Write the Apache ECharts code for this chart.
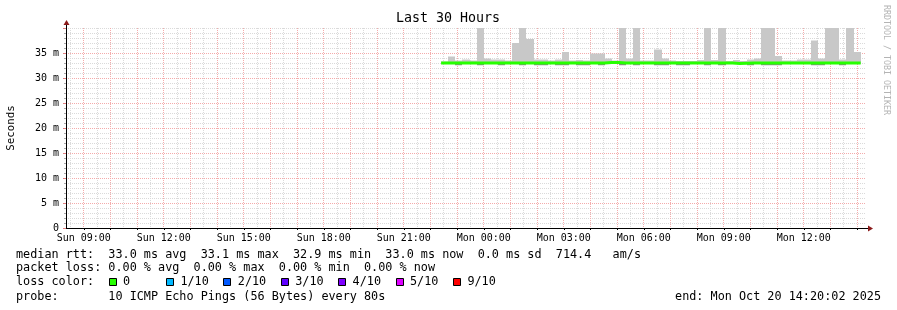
<!DOCTYPE html>
<html><head><meta charset="utf-8">
<script src="https://cdn.jsdelivr.net/npm/echarts@6/dist/echarts.min.js"></script>
<style>html,body{margin:0;padding:0;background:#fff}#c{width:897px;height:310px}</style>
</head><body><div id="c"></div>
<script>
// time in minutes since Sun 00:00
const axisStartMin = 500;   // Sun 08:20
const axisEndMin = 2300;    // Mon 14:20
const binStartMin = 1344;   // first data bin, Sun 22:24
const binMinutes = 16;

// smoke (ms) per 16-minute bin
const smokeHigh = [
  33.3, 34.3, 33.5, 33.7, 33.5, 40.0, 33.9, 33.7, 33.7, 33.5,
  37.0, 40.0, 37.8, 33.7, 33.7, 33.5, 33.7, 35.2, 33.5, 33.6,
  33.5, 34.9, 34.9, 33.9, 33.5, 40.0, 33.9, 40.0, 33.5, 33.5,
  35.7, 33.9, 33.5, 33.4, 33.4, 33.4, 33.6, 40.0, 33.6, 40.0,
  33.4, 33.6, 33.4, 33.7, 33.9, 40.0, 40.0, 34.4, 33.5, 33.5,
  33.7, 33.7, 37.5, 33.9, 40.0, 40.0, 33.7, 40.0, 35.2
];
const smokeLow = [
  32.85, 32.85, 32.5, 32.85, 32.85, 32.5, 32.85, 32.85, 32.5, 32.85,
  32.85, 32.5, 32.85, 32.5, 32.5, 32.85, 32.5, 32.5, 32.85, 32.5,
  32.5, 32.85, 32.5, 32.85, 32.85, 32.5, 32.85, 32.5, 32.85, 32.85,
  32.5, 32.5, 32.85, 32.5, 32.5, 32.85, 32.85, 32.5, 32.85, 32.5,
  32.85, 32.85, 32.85, 32.5, 32.85, 32.5, 32.5, 32.5, 32.85, 32.85,
  32.85, 32.85, 32.5, 32.5, 32.85, 32.85, 32.5, 32.85, 32.85
];
const darkLow = [
  32.95, 32.95, 32.6, 32.95, 32.95, 32.6, 32.95, 32.95, 32.6, 32.95,
  32.95, 32.6, 32.95, 32.6, 32.6, 32.95, 32.6, 32.6, 32.95, 32.6,
  32.6, 32.95, 32.6, 32.95, 32.95, 32.6, 32.95, 32.6, 32.95, 32.95,
  32.6, 32.6, 32.95, 32.6, 32.6, 32.95, 32.95, 32.6, 32.95, 32.6,
  32.95, 32.95, 32.95, 32.6, 32.95, 32.6, 32.6, 32.6, 32.95, 32.95,
  32.95, 32.95, 32.6, 32.6, 32.95, 32.95, 32.6, 32.95, 32.95
];
const medianRtt = [
  33.0, 33.0, 33.0, 33.0, 33.0, 33.0, 33.0, 33.0, 33.0, 33.0,
  33.0, 33.0, 33.0, 33.0, 33.0, 33.0, 33.0, 33.0, 33.0, 33.0,
  33.0, 33.0, 33.0, 33.1, 33.1, 33.0, 33.0, 33.0, 33.0, 33.0,
  33.0, 33.0, 33.0, 33.0, 33.0, 33.0, 33.0, 33.0, 33.0, 33.0,
  33.0, 32.9, 32.95, 33.0, 33.0, 33.0, 33.0, 33.0, 33.0, 33.0,
  33.0, 33.0, 33.0, 33.0, 33.0, 33.0, 33.0, 33.0, 33.0
];

const xTickMinutes = [540, 720, 900, 1080, 1260, 1440, 1620, 1800, 1980, 2160];
const xTickLabels = ['Sun 09:00','Sun 12:00','Sun 15:00','Sun 18:00','Sun 21:00',
                     'Mon 00:00','Mon 03:00','Mon 06:00','Mon 09:00','Mon 12:00'];
const yTickValues = [0, 5, 10, 15, 20, 25, 30, 35];
const yTickLabels = ['0', '5 m', '10 m', '15 m', '20 m', '25 m', '30 m', '35 m'];

const lossLabels = ['0', '1/10', '2/10', '3/10', '4/10', '5/10', '9/10'];
const lossColors = ['#26ff00', '#00b8ff', '#0059ff', '#5e00ff', '#7e00ff', '#dd00ff', '#ff0000'];

const legendLines = [
  'median rtt:  33.0 ms avg  33.1 ms max  32.9 ms min  33.0 ms now  0.0 ms sd  714.4   am/s',
  'packet loss: 0.00 % avg  0.00 % max  0.00 % min  0.00 % now',
  'loss color:',
  'probe:       10 ICMP Echo Pings (56 Bytes) every 80s'
];
const endText = 'end: Mon Oct 20 14:20:02 2025';
const titleText = 'Last 30 Hours';
const yAxisTitle = 'Seconds';
const watermark = 'RRDTOOL / TOBI OETIKER';

// ---- build ----
const MONO = '"DejaVu Sans Mono", monospace';
const Y_MAX = 40;
const bins = smokeHigh.map((h, k) => {
  const t0 = binStartMin + k * binMinutes;
  return { t0, t1: t0 + binMinutes, k };
});
const lightData = bins.map(b => [b.t0, b.t1, smokeLow[b.k], smokeHigh[b.k]]);
const darkData = bins.map(b => [b.t0, b.t1, darkLow[b.k], medianRtt[b.k]]);
const medData = bins.map(b => [b.t0, medianRtt[b.k]]);
medData.push([bins[bins.length - 1].t1, medianRtt[medianRtt.length - 1]]);

// vertical grid lines: hourly (major, red) and half-hourly (minor, gray)
const vGrid = [];
for (let t = Math.ceil(axisStartMin / 30) * 30; t < axisEndMin; t += 30) {
  vGrid.push([t, t % 60 === 0 ? 1 : 0]);
}
const hourTicks = [];
for (let t = Math.ceil(axisStartMin / 60) * 60; t < axisEndMin; t += 60) hourTicks.push(t);

function rectItem(color) {
  return function (params, api) {
    const a = api.coord([api.value(0), api.value(3)]);
    const b = api.coord([api.value(1), api.value(2)]);
    const x0 = Math.round(a[0]), x1 = Math.round(b[0]);
    return { type: 'rect', shape: { x: x0, y: a[1], width: x1 - x0, height: b[1] - a[1] },
             style: { fill: color } };
  };
}
function gridItem(params, api) {
  const p0 = api.coord([api.value(0), 0]);
  const p1 = api.coord([api.value(0), Y_MAX]);
  const x = Math.floor(p0[0]) + 0.5;
  return { type: 'line', shape: { x1: x, y1: Math.round(p1[1]), x2: x, y2: Math.round(p0[1]) },
           style: { stroke: api.value(1) ? '#f4abab' : '#dadada', lineWidth: 1, lineDash: [1, 1] } };
}

const graphics = [
  { type: 'text', x: 448, y: 19, style: { text: titleText, font: '13.3px ' + MONO, fill: '#000',
      align: 'center', verticalAlign: 'middle', textAlign: 'center', textVerticalAlign: 'middle' } },
  { type: 'text', x: 11, y: 128, rotation: Math.PI / 2, style: { text: yAxisTitle, font: '10.8px ' + MONO, fill: '#000',
      align: 'center', verticalAlign: 'middle', textAlign: 'center', textVerticalAlign: 'middle' } },
  { type: 'text', x: 886, y: 60, rotation: -Math.PI / 2, style: { text: watermark, font: '8.3px ' + MONO, fill: '#b4b4b4',
      align: 'center', verticalAlign: 'middle', textAlign: 'center', textVerticalAlign: 'middle' } },
  { type: 'line', shape: { x1: 66.5, y1: 28, x2: 66.5, y2: 24 }, style: { stroke: '#000', lineWidth: 1 } },
  { type: 'line', shape: { x1: 866, y1: 228.5, x2: 869, y2: 228.5 }, style: { stroke: '#000', lineWidth: 1 } },
  { type: 'polygon', shape: { points: [[63.5, 25], [69.5, 25], [66.5, 20]] }, style: { fill: '#8b1a1a' } },
  { type: 'polygon', shape: { points: [[868, 225.5], [868, 231.5], [873, 228.5]] }, style: { fill: '#8b1a1a' } }
];
const lineY = [254.7, 268.3, 282.3, 296.7];
const LEGEND_FONT = '11.8px ' + MONO;
legendLines.forEach((s, i) => {
  graphics.push({ type: 'text', x: 16, y: lineY[i], style: { text: s, font: LEGEND_FONT, fill: '#000',
    align: 'left', verticalAlign: 'middle', textAlign: 'left', textVerticalAlign: 'middle' } });
});
lossLabels.forEach((lab, i) => {
  const bx = 108.5 + 57.4 * i;
  graphics.push({ type: 'rect', shape: { x: Math.round(bx) + 0.5, y: 278.5, width: 7, height: 7 },
    style: { fill: lossColors[i], stroke: '#000', lineWidth: 1 } });
  graphics.push({ type: 'text', x: bx + 14.5, y: lineY[2], style: { text: lab, font: LEGEND_FONT, fill: '#000',
    align: 'left', verticalAlign: 'middle', textAlign: 'left', textVerticalAlign: 'middle' } });
});
graphics.push({ type: 'text', x: 881, y: lineY[3], style: { text: endText, font: LEGEND_FONT, fill: '#000',
  align: 'right', verticalAlign: 'middle', textAlign: 'right', textVerticalAlign: 'middle' } });

const chart = echarts.init(document.getElementById('c'), null, { renderer: 'canvas' });
chart.setOption({
  animation: false,
  backgroundColor: '#fff',
  grid: { left: 66, top: 28, width: 800, height: 200, containLabel: false },
  xAxis: {
    type: 'value', min: axisStartMin, max: axisEndMin,
    splitLine: { show: false },
    axisLine: { onZero: false, lineStyle: { color: '#000', width: 1 } },
    axisTick: { show: true, customValues: hourTicks, length: 2, lineStyle: { color: '#000' } },
    axisLabel: { customValues: xTickMinutes, formatter: v => xTickLabels[xTickMinutes.indexOf(v)] || '',
      fontFamily: MONO, fontSize: 10, color: '#000', margin: 5 }
  },
  yAxis: [
    { type: 'value', min: 0, max: Y_MAX, interval: 1,
      axisLine: { show: true, onZero: false, lineStyle: { color: '#000' } },
      axisTick: { show: true, length: 2, lineStyle: { color: '#aaa' } },
      axisLabel: { show: false },
      splitLine: { show: true, lineStyle: { color: '#dadada', type: [1, 1] } } },
    { type: 'value', min: 0, max: Y_MAX, interval: 5, position: 'left',
      axisLine: { show: false }, axisTick: { show: true, length: 3, lineStyle: { color: '#e08080' } },
      axisLabel: { formatter: v => { const i = yTickValues.indexOf(v); return i >= 0 ? yTickLabels[i] : ''; },
        fontFamily: MONO, fontSize: 10, color: '#000', margin: 7 },
      splitLine: { show: true, showMaxLine: false, lineStyle: { color: '#f4abab', type: [1, 1] } } }
  ],
  series: [
    { type: 'custom', renderItem: gridItem, data: vGrid, z: 1, silent: true },
    { type: 'custom', renderItem: rectItem('#c8c8c8'), data: lightData, z: 3, silent: true },
    { type: 'custom', renderItem: rectItem('#888888'), data: darkData, z: 4, silent: true },
    { type: 'line', data: medData, step: 'end', showSymbol: false, symbol: 'none', z: 5, silent: true,
      lineStyle: { color: '#26ff00', width: 3 } }
  ],
  graphic: graphics
});
</script></body></html>
